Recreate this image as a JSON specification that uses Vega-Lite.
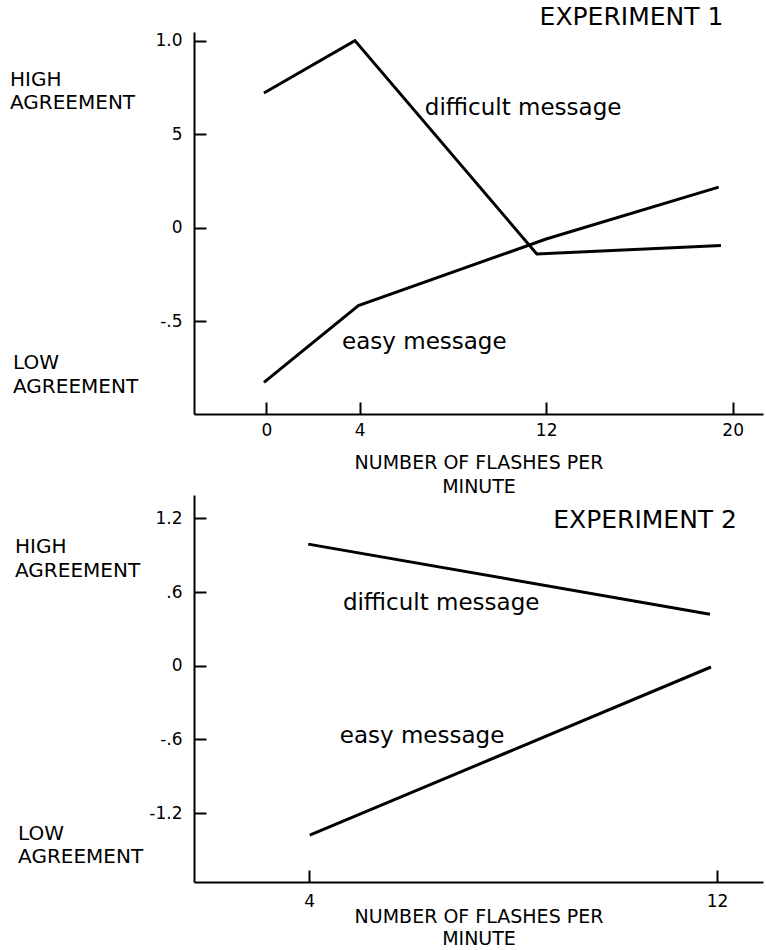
{
  "$schema": "https://vega.github.io/schema/vega-lite/v6.json",
  "autosize": {"type": "pad"},
  "padding": {"left": 10, "top": 5, "right": 3, "bottom": 3},
  "background": "white",
  "spacing": 81,
  "bounds": "flush",
  "config": {
    "view": {"stroke": null},
    "font": "DejaVu Sans",
    "axis": {
      "grid": false,
      "domainColor": "black",
      "domainWidth": 2,
      "tickColor": "black",
      "tickWidth": 2,
      "tickSize": -12,
      "labelColor": "black",
      "labelFont": "DejaVu Sans",
      "labelFontSize": 17,
      "titleColor": "black",
      "titleFont": "DejaVu Sans",
      "titleFontSize": 19,
      "titleFontWeight": "normal",
      "titleLineHeight": 24
    },
    "text": {"font": "DejaVu Sans", "color": "black"}
  },
  "vconcat": [
    {
      "width": 569,
      "height": 382,
      "layer": [
        {
          "data": {"values": [
            {"message": "difficult", "flashes": -0.1, "agreement": 0.72},
            {"message": "difficult", "flashes": 3.8, "agreement": 1.0},
            {"message": "difficult", "flashes": 11.6, "agreement": -0.14},
            {"message": "difficult", "flashes": 19.5, "agreement": -0.095},
            {"message": "easy", "flashes": -0.1, "agreement": -0.826},
            {"message": "easy", "flashes": 3.95, "agreement": -0.416},
            {"message": "easy", "flashes": 12.0, "agreement": -0.06},
            {"message": "easy", "flashes": 19.4, "agreement": 0.217}
          ]},
          "mark": {"type": "line", "color": "black", "strokeWidth": 3},
          "encoding": {
            "x": {"field": "flashes", "type": "quantitative",
              "scale": {"domain": [-3.1, 21.3], "nice": false, "zero": false},
              "axis": {"values": [0, 4, 12, 20], "title": ["NUMBER OF FLASHES PER", "MINUTE"], "labelPadding": 20, "titlePadding": 15}},
            "y": {"field": "agreement", "type": "quantitative",
              "scale": {"domain": [-0.995, 1.046], "nice": false, "zero": false},
              "axis": {"values": [1, 0.5, 0, -0.5], "title": null, "labelPadding": 24,
                "labelExpr": "datum.value == 1 ? '1.0' : datum.value == 0.5 ? '5' : datum.value == 0 ? '0' : '-.5'"}},
            "detail": {"field": "message"}
          }
        },
        {
          "data": {"values": [
            {"flashes": -10.99, "agreement": 0.79, "label": "HIGH"},
            {"flashes": -10.99, "agreement": 0.665, "label": "AGREEMENT"},
            {"flashes": -10.86, "agreement": -0.725, "label": "LOW"},
            {"flashes": -10.86, "agreement": -0.85, "label": "AGREEMENT"}
          ]},
          "mark": {"type": "text", "align": "left", "baseline": "middle", "fontSize": 20},
          "encoding": {
            "x": {"field": "flashes", "type": "quantitative"},
            "y": {"field": "agreement", "type": "quantitative"},
            "text": {"field": "label"}
          }
        },
        {
          "data": {"values": [
            {"flashes": 6.8, "agreement": 0.6, "label": "difficult message"},
            {"flashes": 3.25, "agreement": -0.648, "label": "easy message"}
          ]},
          "mark": {"type": "text", "align": "left", "baseline": "alphabetic", "fontSize": 23},
          "encoding": {
            "x": {"field": "flashes", "type": "quantitative"},
            "y": {"field": "agreement", "type": "quantitative"},
            "text": {"field": "label"}
          }
        },
        {
          "data": {"values": [
            {"flashes": 19.6, "agreement": 1.126, "label": "EXPERIMENT 1"}
          ]},
          "mark": {"type": "text", "align": "right", "baseline": "middle", "fontSize": 25},
          "encoding": {
            "x": {"field": "flashes", "type": "quantitative"},
            "y": {"field": "agreement", "type": "quantitative"},
            "text": {"field": "label"}
          }
        }
      ]
    },
    {
      "width": 569,
      "height": 387,
      "layer": [
        {
          "data": {"values": [
            {"message": "difficult", "flashes": 3.98, "agreement": 0.99},
            {"message": "difficult", "flashes": 11.86, "agreement": 0.42},
            {"message": "easy", "flashes": 4.01, "agreement": -1.379},
            {"message": "easy", "flashes": 11.88, "agreement": -0.01}
          ]},
          "mark": {"type": "line", "color": "black", "strokeWidth": 3},
          "encoding": {
            "x": {"field": "flashes", "type": "quantitative",
              "scale": {"domain": [1.74, 12.9], "nice": false, "zero": false},
              "axis": {"values": [4, 12], "title": ["NUMBER OF FLASHES PER", "MINUTE"], "labelPadding": 23, "titlePadding": -2, "titleLineHeight": 22}},
            "y": {"field": "agreement", "type": "quantitative",
              "scale": {"domain": [-1.76, 1.39], "nice": false, "zero": false},
              "axis": {"values": [1.2, 0.6, 0, -0.6, -1.2], "title": null, "labelPadding": 24,
                "labelExpr": "datum.value == 1.2 ? '1.2' : datum.value == 0.6 ? '.6' : datum.value == 0 ? '0' : datum.value == -0.6 ? '-.6' : '-1.2'"}},
            "detail": {"field": "message"}
          }
        },
        {
          "data": {"values": [
            {"flashes": -1.77, "agreement": 0.965, "label": "HIGH"},
            {"flashes": -1.77, "agreement": 0.771, "label": "AGREEMENT"},
            {"flashes": -1.71, "agreement": -1.367, "label": "LOW"},
            {"flashes": -1.71, "agreement": -1.557, "label": "AGREEMENT"}
          ]},
          "mark": {"type": "text", "align": "left", "baseline": "middle", "fontSize": 20},
          "encoding": {
            "x": {"field": "flashes", "type": "quantitative"},
            "y": {"field": "agreement", "type": "quantitative"},
            "text": {"field": "label"}
          }
        },
        {
          "data": {"values": [
            {"flashes": 4.66, "agreement": 0.454, "label": "difficult message"},
            {"flashes": 4.6, "agreement": -0.629, "label": "easy message"}
          ]},
          "mark": {"type": "text", "align": "left", "baseline": "alphabetic", "fontSize": 23},
          "encoding": {
            "x": {"field": "flashes", "type": "quantitative"},
            "y": {"field": "agreement", "type": "quantitative"},
            "text": {"field": "label"}
          }
        },
        {
          "data": {"values": [
            {"flashes": 12.39, "agreement": 1.186, "label": "EXPERIMENT 2"}
          ]},
          "mark": {"type": "text", "align": "right", "baseline": "middle", "fontSize": 25},
          "encoding": {
            "x": {"field": "flashes", "type": "quantitative"},
            "y": {"field": "agreement", "type": "quantitative"},
            "text": {"field": "label"}
          }
        }
      ]
    }
  ]
}
